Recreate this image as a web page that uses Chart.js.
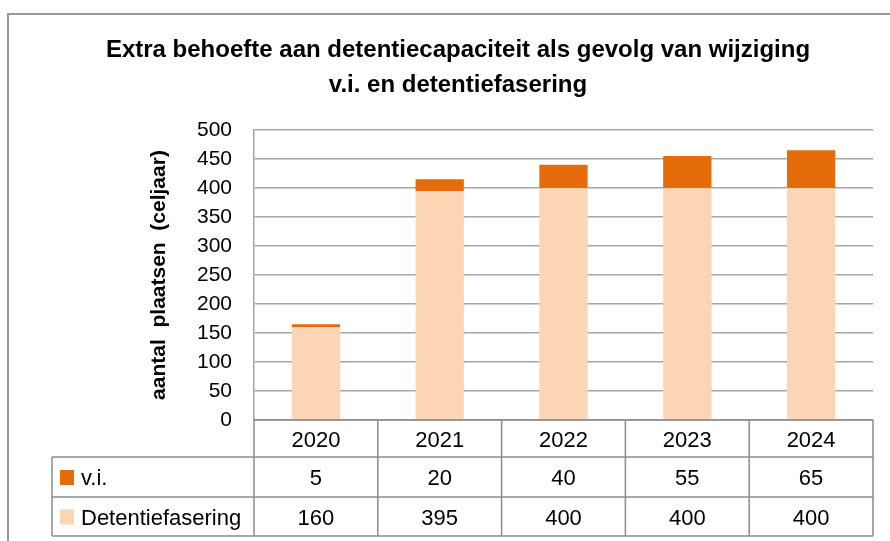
<!DOCTYPE html>
<html>
<head>
<meta charset="utf-8">
<script src="https://cdn.jsdelivr.net/npm/chart.js@4.4.1/dist/chart.umd.min.js"></script>
<style>
  html, body { margin: 0; padding: 0; background: #fff; }
  #wrap { width: 890px; height: 541px; }
</style>
</head>
<body>
<div id="wrap"><canvas id="chart" width="890" height="541"></canvas></div>
<script>
// =========================================================================
// Data
// =========================================================================
const years = ["2020", "2021", "2022", "2023", "2024"];
const viValues = [5, 20, 40, 55, 65];
const faseringValues = [160, 395, 400, 400, 400];
const seriesNames = ["v.i.", "Detentiefasering"];
const yTicks = [0, 50, 100, 150, 200, 250, 300, 350, 400, 450, 500];

const titleLines = [
  "Extra behoefte aan detentiecapaciteit als gevolg van wijziging",
  "v.i. en detentiefasering",
];
const yTitle = "aantal  plaatsen  (celjaar)";

const ORANGE = "#E46C0A";
const PEACH = "#FCD5B5";
const GRID = "#a6a6a6";
const BORDER = "#8c8c8c";
const FONT = "'Liberation Sans', Arial, sans-serif";

// =========================================================================
// Frame, title and data table (drawn around the chart)
// =========================================================================
const tablePlugin = {
  id: "dataTable",
  beforeDraw(chart) {
    const ctx = chart.ctx;
    ctx.save();
    ctx.strokeStyle = "#999";
    ctx.lineWidth = 2;
    ctx.beginPath();
    ctx.moveTo(8, 541);
    ctx.lineTo(8, 14);
    ctx.lineTo(890, 14);
    ctx.stroke();
    ctx.restore();
  },
  afterDraw(chart) {
    const ctx = chart.ctx;
    const area = chart.chartArea;
    const xs = chart.scales.x;
    const colW = (area.right - area.left) / years.length;
    const rowTop = [area.bottom, area.bottom + 37, area.bottom + 77];
    const rowBot = area.bottom + 116;
    const labelLeft = 52;

    ctx.save();
    // title
    ctx.fillStyle = "#000";
    ctx.textAlign = "center";
    ctx.textBaseline = "middle";
    ctx.font = "bold 24px " + FONT;
    ctx.fillText(titleLines[0], 458, 50);
    ctx.fillText(titleLines[1], 458, 85);

    // table grid
    ctx.strokeStyle = BORDER;
    ctx.lineWidth = 1.5;
    ctx.beginPath();
    ctx.moveTo(area.left, rowTop[0]); ctx.lineTo(area.right, rowTop[0]);
    ctx.moveTo(labelLeft, rowTop[1]); ctx.lineTo(area.right, rowTop[1]);
    ctx.moveTo(labelLeft, rowTop[2]); ctx.lineTo(area.right, rowTop[2]);
    ctx.moveTo(labelLeft, rowBot); ctx.lineTo(area.right, rowBot);
    ctx.moveTo(labelLeft, rowTop[1]); ctx.lineTo(labelLeft, rowBot);
    for (let i = 0; i <= years.length; i++) {
      const x = area.left + i * colW;
      ctx.moveTo(x, rowTop[0]); ctx.lineTo(x, rowBot);
    }
    ctx.stroke();

    // header row: years
    ctx.font = "22px " + FONT;
    ctx.textAlign = "center";
    years.forEach((y, i) => {
      ctx.fillText(y, xs.getPixelForValue(i), (rowTop[0] + rowTop[1]) / 2 + 2);
    });
    // series rows with legend keys
    const rows = [viValues, faseringValues];
    const colors = [ORANGE, PEACH];
    rows.forEach((vals, r) => {
      const cy = (rowTop[r + 1] + (r === 0 ? rowTop[2] : rowBot)) / 2 + 2;
      ctx.fillStyle = "#000";
      ctx.textAlign = "center";
      vals.forEach((v, i) => {
        ctx.fillText(String(v), xs.getPixelForValue(i), cy);
      });
      ctx.fillStyle = colors[r];
      ctx.fillRect(60, cy - 9, 14, 15);
      ctx.fillStyle = "#000";
      ctx.textAlign = "left";
      ctx.fillText(seriesNames[r], 81, cy);
    });
    ctx.restore();
  },
};

// =========================================================================
// Chart
// =========================================================================
new Chart(document.getElementById("chart"), {
  type: "bar",
  data: {
    labels: years,
    datasets: [
      {
        label: seriesNames[1],
        data: faseringValues,
        backgroundColor: PEACH,
        barPercentage: 0.39,
        categoryPercentage: 1,
      },
      {
        label: seriesNames[0],
        data: viValues,
        backgroundColor: ORANGE,
        barPercentage: 0.39,
        categoryPercentage: 1,
      },
    ],
  },
  options: {
    responsive: false,
    animation: false,
    layout: { padding: { left: 8, right: 17, top: 130, bottom: 121 } },
    plugins: {
      legend: { display: false },
      title: { display: false },
      tooltip: { enabled: false },
    },
    scales: {
      x: {
        stacked: true,
        display: false,
      },
      y: {
        stacked: true,
        min: 0,
        max: 500,
        afterBuildTicks: (scale) => {
          scale.ticks = yTicks.map((v) => ({ value: v }));
        },
        afterFit: (scale) => {
          scale.width = 246;
        },
        grid: { color: GRID, lineWidth: 1.5, drawTicks: false },
        border: { color: GRID, width: 1.5 },
        ticks: {
          color: "#000",
          font: { family: FONT, size: 21 },
          padding: 22,
        },
        title: {
          display: true,
          text: yTitle,
          color: "#000",
          font: { family: FONT, size: 21, weight: "bold" },
          padding: { top: 139, bottom: 0 },
        },
      },
    },
  },
  plugins: [tablePlugin],
});
</script>
</body>
</html>
